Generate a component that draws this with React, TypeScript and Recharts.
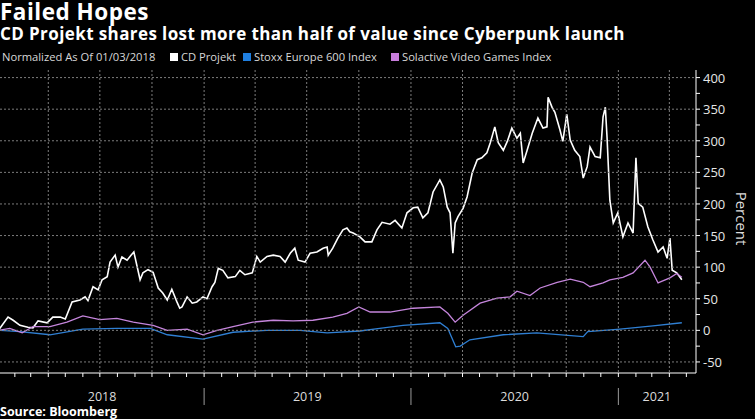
import React from 'react';
import { LineChart, Line, XAxis, YAxis, Label } from 'recharts';

// days counted from 2018-01-01, values in percent (normalized as of 01/03/2018)
const cdDays = [2, 19, 28, 40, 54, 63, 72, 88, 98, 111, 120, 132, 146, 155, 160, 169, 178, 185, 194, 199, 208, 213, 220, 229, 236, 241, 252, 257, 266, 275, 284, 292, 300, 308, 317, 322, 326, 335, 344, 352, 363, 370, 379, 384, 390, 398, 407, 420, 428, 437, 450, 458, 464, 476, 487, 499, 508, 517, 525, 531, 543, 552, 564, 575, 582, 584, 592, 601, 610, 617, 622, 628, 640, 649, 661, 670, 679, 693, 702, 714, 723, 734, 742, 751, 760, 769, 781, 787, 794, 799, 804, 808, 813, 822, 829, 838, 847, 855, 864, 870, 878, 884, 893, 900, 908, 917, 923, 928, 935, 944, 954, 963, 970, 972, 979, 984, 993, 998, 1005, 1011, 1019, 1028, 1034, 1041, 1046, 1055, 1064, 1069, 1073, 1076, 1081, 1087, 1095, 1104, 1113, 1122, 1127, 1131, 1139, 1148, 1157, 1166, 1175, 1182, 1187, 1191, 1199, 1208];
const cdValues = [0, 21, 16, 8, 5, 4, 15, 12, 21, 21, 18, 45, 48, 53, 47, 69, 64, 80, 85, 108, 119, 100, 116, 111, 119, 124, 80, 91, 96, 92, 67, 59, 48, 65, 45, 35, 37, 53, 43, 45, 53, 50, 69, 76, 98, 95, 83, 85, 95, 88, 91, 117, 108, 117, 119, 117, 108, 122, 130, 111, 108, 122, 124, 130, 132, 119, 130, 146, 159, 162, 156, 154, 148, 140, 140, 159, 171, 168, 174, 162, 186, 194, 195, 178, 186, 219, 238, 227, 195, 186, 122, 170, 180, 193, 211, 249, 270, 273, 281, 297, 322, 297, 285, 299, 320, 304, 312, 265, 285, 312, 336, 320, 322, 369, 353, 345, 317, 299, 342, 301, 285, 275, 241, 259, 290, 275, 273, 338, 353, 306, 206, 170, 186, 148, 170, 154, 273, 201, 195, 164, 143, 124, 132, 114, 146, 95, 91, 80];

const stoxxDays = [2, 40, 93, 151, 211, 270, 300, 363, 416, 476, 534, 582, 640, 675, 716, 781, 795, 809, 817, 834, 893, 952, 1034, 1042, 1099, 1157, 1208];
const stoxxValues = [0, -2, -7, 2, 3, 3, -7, -14, -3, 0, 0, -4, -1, 3, 8, 12, 3, -26, -25, -15, -7, -4, -10, -2, 2, 7, 12];

const solDays = [2, 22, 44, 63, 93, 123, 151, 181, 211, 240, 275, 300, 335, 363, 388, 416, 451, 487, 522, 557, 592, 617, 638, 658, 693, 734, 781, 795, 808, 822, 852, 882, 905, 917, 940, 958, 988, 1011, 1034, 1046, 1069, 1081, 1104, 1122, 1143, 1152, 1166, 1187, 1199, 1208];
const solValues = [0, 3, -4, 6, 6, 13, 23, 17, 19, 13, 8, 0, 2, -7, 0, 6, 13, 16, 15, 16, 21, 27, 37, 29, 29, 35, 37, 27, 13, 24, 43, 51, 53, 62, 55, 67, 76, 81, 76, 69, 75, 80, 84, 91, 111, 100, 75, 83, 90, 84];

const monthDays = [31, 59, 90, 120, 151, 181, 212, 243, 273, 304, 334, 365, 396, 424, 455, 485, 516, 546, 577, 608, 638, 669, 699, 730, 761, 790, 821, 851, 882, 912, 943, 974, 1004, 1035, 1065, 1096, 1127, 1155, 1186, 1216];
const quarterDays = [90, 181, 273, 365, 455, 546, 638, 730, 821, 912, 1004, 1096, 1186];
const yearStarts = [365, 730, 1096];
const yearMids = [185, 547, 913, 1164];
const yearLabels = ['2018', '2019', '2020', '2021'];
const minorTicks = [-50, -25, 0, 25, 50, 75, 100, 125, 150, 175, 200, 225, 250, 275, 300, 325, 350, 375, 400];

const series = [
  { key: 'cd', name: 'CD Projekt', color: '#ffffff', legend: '#ffffff', width: 1.6, days: cdDays, values: cdValues },
  { key: 'stoxx', name: 'Stoxx Europe 600 Index', color: '#2f7fd3', legend: '#1f7fe0', width: 1.3, days: stoxxDays, values: stoxxValues },
  { key: 'sol', name: 'Solactive Video Games Index', color: '#c585dc', legend: '#c77ddb', width: 1.3, days: solDays, values: solValues },
];
// legend block widths, to line up with the original legend
const legendWidths = [168, 73, 148, 170];

const FONT = '"Open Sans", "DejaVu Sans", sans-serif';
const X_DOMAIN = [4.8, 1233];
const Y_DOMAIN = [-67.5, 412];
const GRID = '#7c7c7c';
const PLOT_TOP = 70;
const PLOT_LEFT = 0;
const Y_TICK = 4;
const Y_MARGIN = 3;

// month ticks on the axis line; quarter months also draw the dotted vertical grid line
const MonthTick = (props: any) => {
  const { x, y, payload } = props;
  if (!quarterDays.includes(payload.value)) return <g />;
  const axisY = y - 4 - 2;
  return <line x1={x} x2={x} y1={PLOT_TOP} y2={axisY} stroke={GRID} strokeWidth={1} strokeDasharray="2 2" />;
};

// labels every 50, with the dotted horizontal grid line across the plot
const PercentTick = (props: any) => {
  const { x, y, payload } = props;
  if (payload.value % 50 !== 0) return <g />;
  const axisX = x - Y_TICK - Y_MARGIN;
  return (
    <g>
      <line x1={PLOT_LEFT} x2={axisX} y1={y} y2={y} stroke={GRID} strokeWidth={1} strokeDasharray="2 2" />
      <text x={x} y={y} dy={5} fill="#e6e6e6" fontSize={13} fontFamily={FONT} textAnchor="start">
        {payload.value}
      </text>
    </g>
  );
};

const YearTick = (props: any) => {
  const { x, y, payload } = props;
  if (yearStarts.includes(payload.value)) {
    return <line x1={x} x2={x} y1={y + 5} y2={y + 22} stroke="#9a9a9a" strokeWidth={1} />;
  }
  const i = yearMids.indexOf(payload.value);
  return (
    <text x={x} y={y + 18} fill="#dcdcdc" fontSize={12.5} fontFamily={FONT} textAnchor="middle">
      {yearLabels[i]}
    </text>
  );
};

const PercentLabel = (props: any) => {
  const vb = props.viewBox;
  const cx = vb.x + 44;
  const cy = vb.y + vb.height / 2 - 3;
  return (
    <text x={cx} y={cy} transform={`rotate(90 ${cx} ${cy})`} fill="#dcdcdc" fontSize={15} fontFamily={FONT} textAnchor="middle" dominantBaseline="middle">
      Percent
    </text>
  );
};

export default function App() {
  const lines = series.map((s) => ({ ...s, data: s.days.map((d, i) => ({ d, v: s.values[i] })) }));

  return (
    <div style={{ position: 'absolute', left: 0, top: 0, width: 755, height: 419, background: '#000', overflow: 'hidden', fontFamily: FONT }}>
      <div style={{ position: 'absolute', left: 0, top: 0, color: '#fff', fontWeight: 700, fontSize: 22.5, lineHeight: '24px', letterSpacing: 0.5, whiteSpace: 'nowrap' }}>
        Failed Hopes
      </div>
      <div style={{ position: 'absolute', left: 0, top: 24, color: '#fff', fontWeight: 700, fontSize: 17, lineHeight: '20px', letterSpacing: 0.4, whiteSpace: 'nowrap' }}>
        CD Projekt shares lost more than half of value since Cyberpunk launch
      </div>
      <div style={{ position: 'absolute', left: 2, top: 50, height: 14, color: '#d8d8d8', fontSize: 11.2, lineHeight: '14px', display: 'flex', alignItems: 'center', whiteSpace: 'nowrap' }}>
        <span style={{ width: legendWidths[0] }}>Normalized As Of 01/03/2018</span>
        {series.map((s, i) => (
          <span key={s.key} style={{ display: 'flex', alignItems: 'center', width: legendWidths[i + 1] }}>
            <span style={{ width: 8, height: 8, background: s.legend, display: 'inline-block', marginRight: 3 }} />
            {s.name}
          </span>
        ))}
      </div>
      <div style={{ position: 'absolute', left: 0, top: 0 }}>
        <LineChart width={755} height={419} margin={{ top: PLOT_TOP, right: 0, bottom: 0, left: PLOT_LEFT }}>
          <XAxis xAxisId="m" dataKey="d" type="number" domain={X_DOMAIN} allowDataOverflow ticks={monthDays} interval={0} tick={<MonthTick />} tickSize={4} tickMargin={2} stroke="#ffffff" height={10} />
          <XAxis xAxisId="y" dataKey="d" type="number" domain={X_DOMAIN} allowDataOverflow ticks={[...yearMids, ...yearStarts].sort((a, b) => a - b)} interval={0} tick={<YearTick />} tickLine={false} axisLine={false} tickSize={0} tickMargin={0} height={36} />
          <YAxis yAxisId="v" orientation="right" type="number" domain={Y_DOMAIN} allowDataOverflow ticks={minorTicks} interval={0} tick={<PercentTick />} tickSize={Y_TICK} tickMargin={Y_MARGIN} stroke="#ffffff" width={59}>
            <Label content={<PercentLabel />} />
          </YAxis>
          {lines.map((s) => (
            <Line
              key={s.key}
              xAxisId="m"
              yAxisId="v"
              data={s.data}
              dataKey="v"
              name={s.name}
              stroke={s.color}
              strokeWidth={s.width}
              dot={false}
              isAnimationActive={false}
              type="linear"
            />
          ))}
        </LineChart>
      </div>
      <div style={{ position: 'absolute', left: 0, top: 405, color: '#fff', fontWeight: 700, fontSize: 12.5, lineHeight: '14px', whiteSpace: 'nowrap' }}>
        Source: Bloomberg
      </div>
    </div>
  );
}
